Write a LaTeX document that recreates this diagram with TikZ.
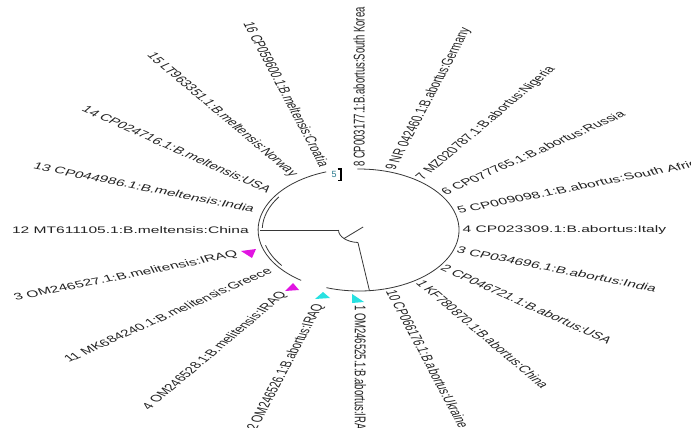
\documentclass[tikz,border=0pt]{standalone}
\usepackage{fontspec}
\setmainfont{Liberation Sans}
\definecolor{treeline}{RGB}{55,55,55}
\definecolor{labeltext}{RGB}{35,35,35}
\definecolor{markmag}{RGB}{225,20,225}
\definecolor{markcyan}{RGB}{40,225,225}
\definecolor{bootteal}{RGB}{40,120,140}
\begin{document}
\begin{tikzpicture}[x=1pt,y=1pt,
  branch/.style={draw=treeline,line width=0.8pt},
  leaflabel/.style={inner sep=0pt,text=labeltext,font=\fontsize{9.5}{11}\selectfont},
  marker/.style={draw=none}]
\useasboundingbox (0,0) rectangle (691,-428);
\fill[white] (0,0) rectangle (691,-428);
\begin{scope}[shift={(359,-230)},xscale=1.64,transform shape]
  % tree skeleton
  \draw[branch] (2.5,3) -- (223:12.5);
  \draw[branch] (180:12.5) arc[start angle=180,end angle=267,radius=12.5];
  \draw[branch] (180:12.5) -- (180:60.5);
  \draw[branch] (267:12.5) -- (-84:61);
  % clade arcs
  \draw[branch] (-109:61) arc[start angle=-109,end angle=91,radius=61];
  \draw[branch] (109:61.5) arc[start angle=109,end angle=235,radius=61.5];
  \draw[branch] (146:59) arc[start angle=146,end angle=178,radius=59];
  \draw[branch] (195:59) arc[start angle=195,end angle=217,radius=59];
  % right-side labels
  \foreach \a/\r/\n/\t in {
    90/63/l8/{8 CP003177.1:B.abortus:South Korea},
    72/63/l9/{9 NR 042460.1:B.abortus:Germany},
    54/63/l7/{7 MZ020787.1:B.abortus:Nigeria},
    36/63/l6/{6 CP077765.1:B.abortus:Russia},
    18/63/l5/{5 CP009098.1:B.abortus:South Africa},
    0/63/l4/{4 CP023309.1:B.abortus:Italy},
    -18/63/l3/{3 CP034696.1:B.abortus:India},
    -36/63/l2/{2 CP046721.1:B.abortus:USA},
    -54/63/l1/{1 KF780870.1:B.abortus:China},
    -72/63/l10/{10 CP066176.1:B.abortus:Ukraine},
    -90/75/lom1/{1 OM246525.1:B.abortus:IRAQ}}
    \node[leaflabel,anchor=west,rotate=\a] (\n) at (\a:\r) {\t};
  % left-side labels
  \foreach \a/\r/\n/\t in {
    -108/78/lom2/{2 OM246526.1:B.abortus:IRAQ},
    -126/78/lom4/{4 OM246528.1:B.melitensis:IRAQ},
    -144/67/l11/{11 MK684240.1:B.melitensis:Greece},
    -162/78/lom3/{3 OM246527.1:B.melitensis:IRAQ},
    180/67/l12/{12 MT611105.1:B.meltensis:China},
    162/67/l13/{13 CP044986.1:B.meltensis:India},
    144/67/l14/{14 CP024716.1:B.meltensis:USA},
    126/67/l15/{15 LT963351.1:B.meltensis:Norway},
    108/67/l16/{16 CP059600.1:B.meltensis:Croatia}}
    \node[leaflabel,anchor=east,rotate=\a-180] (\n) at (\a:\r) {\t};
\end{scope}
% bootstrap value and bracket
\node[inner sep=0pt,text=bootteal,font=\fontsize{9}{10}\selectfont] (boot) at (334,-174.5) {5};
\draw[black,line width=1.1pt] (337.5,-169) -- (341,-169) -- (341,-180.5) -- (337.5,-180.5);
% markers
\fill[markmag] (241,-251) -- (256,-249) -- (252,-258) -- cycle;
\fill[markmag] (285,-291) -- (293,-283) -- (299,-290) -- cycle;
\fill[markcyan] (315,-299) -- (323,-292) -- (330,-298) -- cycle;
\fill[markcyan] (352,-294) -- (352,-303) -- (364,-302) -- cycle;
\end{tikzpicture}
\end{document}
